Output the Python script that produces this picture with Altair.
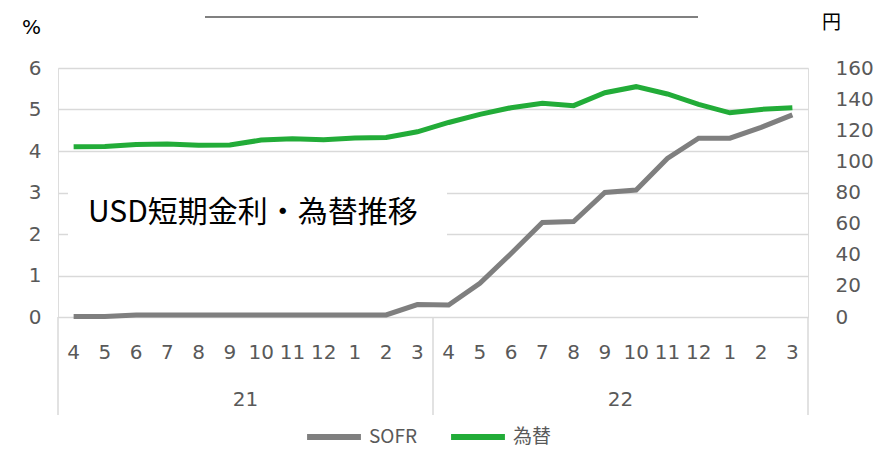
import altair as alt
import pandas as pd

# ---- data ----
months = ["4", "5", "6", "7", "8", "9", "10", "11", "12", "1", "2", "3",
          "4", "5", "6", "7", "8", "9", "10", "11", "12", "1", "2", "3"]
years = ["21"] * 12 + ["22"] * 12
sofr = [0.01, 0.01, 0.05, 0.05, 0.05, 0.05, 0.05, 0.05, 0.05, 0.05, 0.05, 0.30,
        0.29, 0.81, 1.53, 2.28, 2.30, 3.00, 3.06, 3.82, 4.31, 4.31, 4.57, 4.87]
fx = [109.4, 109.6, 110.9, 111.1, 110.3, 110.5, 113.7, 114.5, 113.9, 115.0, 115.4, 119.0,
      125.0, 130.2, 134.5, 137.3, 135.8, 144.1, 148.0, 143.3, 136.6, 131.2, 133.4, 134.5]
series_names = ["SOFR", "為替"]
series_colors = ["#7f7f7f", "#22ac38"]
title_text = "USD短期金利・為替推移"
left_ticks = [0, 1, 2, 3, 4, 5, 6]
right_ticks = [0, 20, 40, 60, 80, 100, 120, 140, 160]

df = pd.DataFrame({"idx": list(range(len(months))), "month": months, "year": years,
                   "sofr": sofr, "fx": fx})

# boundaries between year groups
bounds = [-0.5]
for i in range(len(years)):
    if i == len(years) - 1 or years[i + 1] != years[i]:
        bounds.append(i + 0.5)
bdf = pd.DataFrame({"b": bounds})

W, H = 750, 249
GRID = "#d9d9d9"
LAB = "#595959"
FONT = "DejaVu Sans"
JFONT = "Noto Sans CJK JP"

xscale = alt.Scale(domain=[-0.5, len(months) - 0.5], nice=False, zero=False)
one = pd.DataFrame({"a": [0]})

color_enc = alt.Color(
    "series:N",
    scale=alt.Scale(domain=series_names, range=series_colors),
    legend=alt.Legend(
        title=None, orient="none", legendX=246, legendY=339, direction="horizontal",
        symbolType="stroke", symbolStrokeWidth=6, symbolSize=2900,
        labelFontSize=19, labelFont=JFONT, labelColor=LAB, labelOffset=5,
        columnPadding=22, padding=0,
    ),
)

sofr_line = alt.Chart(df).transform_calculate(series="'SOFR'").mark_line(
    strokeWidth=5, strokeJoin="miter"
).encode(
    x=alt.X("idx:Q", scale=xscale, axis=None),
    y=alt.Y("sofr:Q", scale=alt.Scale(domain=[0, 6], nice=False),
            axis=alt.Axis(orient="left", values=left_ticks, grid=True, gridColor=GRID,
                          gridWidth=1.5, domain=False, ticks=False, labelFontSize=20,
                          labelFont=FONT, labelColor=LAB, labelPadding=17,
                          title="%", titleAngle=0, titleX=-27, titleY=-41,
                          titleBaseline="middle",
                          titleFontSize=20, titleFont=FONT, titleColor="#000000",
                          titleFontWeight="normal", titleAlign="center")),
    color=color_enc,
)

fx_line = alt.Chart(df).transform_calculate(series="'為替'").mark_line(
    strokeWidth=5, strokeJoin="miter"
).encode(
    x=alt.X("idx:Q", scale=xscale, axis=None),
    y=alt.Y("fx:Q", scale=alt.Scale(domain=[0, 160], nice=False),
            axis=alt.Axis(orient="right", values=right_ticks, grid=False, domain=False,
                          ticks=False, labelFontSize=20, labelFont=FONT, labelColor=LAB,
                          labelPadding=27, labelAlign="left",
                          title="円", titleAngle=0, titleX=23, titleY=-46,
                          titleBaseline="middle",
                          titleFontSize=19, titleFont=JFONT, titleColor="#000000",
                          titleFontWeight="normal", titleAlign="center")),
    color=color_enc,
)

sep = alt.Chart(bdf).mark_rule(color=GRID, strokeWidth=1.5).encode(
    x=alt.X("b:Q", scale=xscale, axis=None),
    y=alt.value(H), y2=alt.value(H + 98),
)

month_text = alt.Chart(df).mark_text(
    fontSize=20, font=FONT, color=LAB, baseline="middle", align="center"
).encode(
    x=alt.X("idx:Q", scale=xscale, axis=None),
    y=alt.value(H + 36),
    text="month:N",
)

year_text = alt.Chart(df).transform_aggregate(
    c="mean(idx)", groupby=["year"]
).mark_text(
    fontSize=20, font=FONT, color=LAB, baseline="middle", align="center"
).encode(
    x=alt.X("c:Q", scale=xscale, axis=None),
    y=alt.value(H + 83),
    text="year:N",
)

box = alt.Chart(one).mark_rect(fill="white").encode(
    x=alt.value(10), x2=alt.value(389), y=alt.value(110), y2=alt.value(178)
)
title = alt.Chart(one).mark_text(
    fontSize=30, font=JFONT, color="#000000", align="left", baseline="middle"
).encode(x=alt.value(30), y=alt.value(145), text=alt.value(title_text))

topline = alt.Chart(one).mark_rule(color="#808080", strokeWidth=2).encode(
    x=alt.value(147), x2=alt.value(640), y=alt.value(-51)
)

chart = alt.layer(
    box, sep, month_text, year_text, title, topline, sofr_line, fx_line
).resolve_scale(y="independent").properties(
    width=W, height=H,
    autosize=alt.AutoSizeParams(type="none"),
    padding={"left": 50, "top": 60, "right": 70, "bottom": 131},
).configure_view(stroke=None).configure(background="white")

chart.save("out.html", embed_options={"renderer": "svg", "actions": False})
